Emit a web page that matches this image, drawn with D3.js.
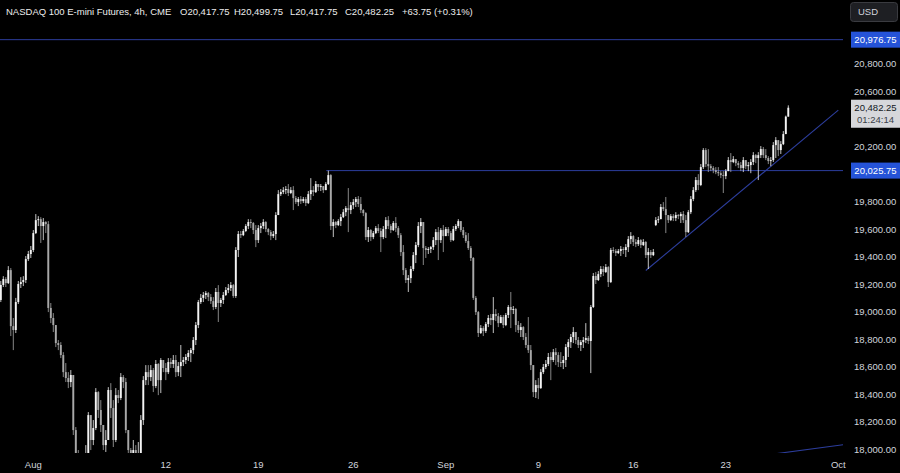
<!DOCTYPE html>
<html><head><meta charset="utf-8">
<script src="https://cdn.jsdelivr.net/npm/d3@7"></script>
<style>html,body{margin:0;padding:0;background:#000;overflow:hidden}svg{display:block}</style>
</head><body><svg id="c" width="900" height="473"></svg>
<script>
// ---- data (NQ E-mini, 4h bars) ----
const closes=[19195,19238,19209,19303,18896,18868,19071,19202,19216,19231,19383,19420,19449,19572,19666,19673,19623,19652,19637,19028,
18955,18904,18773,18759,18686,18562,18519,18490,18541,18141,17960,17851,17815,17779,17924,18250,18069,18156,18417,18287,
18178,18032,18069,18432,18301,18069,18395,18374,18526,18490,18141,17996,17887,17996,17938,17960,18214,18504,18562,18526,
18577,18461,18621,18504,18650,18592,18562,18635,18621,18650,18562,18606,18635,18650,18672,18701,18722,18795,18904,19071,
19101,19122,19136,19107,19078,19035,19144,19064,19086,19122,19158,19173,19194,19115,19449,19565,19557,19587,19623,19652,
19645,19594,19521,19608,19623,19652,19601,19579,19550,19565,19703,19855,19870,19884,19892,19863,19884,19826,19797,19819,
19804,19819,19790,19855,19884,19870,19928,19906,19913,19884,19928,19993,19623,19652,19630,19659,19688,19724,19753,19739,
19775,19797,19819,19783,19739,19717,19543,19594,19543,19572,19608,19587,19543,19601,19666,19623,19594,19645,19608,19557,
19434,19303,19231,19245,19311,19412,19485,19623,19652,19463,19449,19456,19470,19521,19579,19521,19594,19550,19601,19572,
19521,19601,19623,19659,19594,19557,19514,19463,19391,19101,18998,18846,18882,18860,18911,18955,18940,18984,18969,18918,
18962,18904,18977,19035,19013,19020,18904,18868,18889,18817,18759,18722,18613,18417,18468,18446,18562,18599,18621,18672,
18650,18707,18686,18635,18628,18650,18744,18780,18817,18853,18795,18759,18780,18795,18810,18788,19035,19260,19231,19274,
19311,19289,19325,19216,19449,19442,19427,19442,19456,19449,19470,19528,19550,19507,19492,19521,19485,19507,19412,19434,
19412,19434,19666,19673,19761,19746,19703,19666,19695,19681,19703,19695,19710,19666,19579,19724,19819,19884,19957,19921,
20051,20175,20073,20058,20044,20029,20015,20007,19993,19986,20022,20102,20088,20109,20080,20066,20044,20102,20058,20066,
20088,20138,20117,20138,20182,20138,20117,20095,20102,20211,20247,20175,20218,20291,20417.75,20482.25];
const opens=[19086,19195,19238,19209,19303,18896,18868,19071,19202,19216,19231,19383,19420,19449,19572,19666,19673,19623,19652,19637,
19028,18955,18904,18773,18759,18686,18562,18519,18490,18541,18141,17960,17851,17815,17779,17924,18250,18069,18156,18417,
18287,18178,18032,18069,18432,18301,18069,18395,18374,18526,18490,18141,17996,17887,17996,17938,17960,18214,18504,18562,
18526,18577,18461,18621,18504,18650,18592,18562,18635,18621,18650,18562,18606,18635,18650,18672,18701,18722,18795,18904,
19071,19101,19122,19136,19107,19078,19035,19144,19064,19086,19122,19158,19173,19194,19115,19449,19565,19557,19587,19623,
19652,19645,19594,19521,19608,19623,19652,19601,19579,19550,19565,19703,19855,19870,19884,19892,19863,19884,19826,19797,
19819,19804,19819,19790,19855,19884,19870,19928,19906,19913,19884,19928,19993,19623,19652,19630,19659,19688,19724,19753,
19739,19775,19797,19819,19783,19739,19717,19543,19594,19543,19572,19608,19587,19543,19601,19666,19623,19594,19645,19608,
19557,19434,19303,19231,19245,19311,19412,19485,19623,19652,19463,19449,19456,19470,19521,19579,19521,19594,19550,19601,
19572,19521,19601,19623,19659,19594,19557,19514,19463,19391,19101,18998,18846,18882,18860,18911,18955,18940,18984,18969,
18918,18962,18904,18977,19035,19013,19020,18904,18868,18889,18817,18759,18722,18613,18417,18468,18446,18562,18599,18621,
18672,18650,18707,18686,18635,18628,18650,18744,18780,18817,18853,18795,18759,18780,18795,18810,18788,19035,19260,19231,
19274,19311,19289,19325,19216,19449,19442,19427,19442,19456,19449,19470,19528,19550,19507,19492,19521,19485,19507,19412,
19434,19412,19630,19666,19673,19761,19746,19703,19666,19695,19681,19703,19695,19710,19666,19579,19724,19819,19884,19957,
19921,20051,20175,20073,20058,20044,20029,20015,20007,19993,19986,20022,20102,20088,20109,20080,20066,20044,20102,20058,
20066,20088,20138,20117,20138,20182,20138,20117,20095,20102,20211,20247,20175,20218,20291,20417.75];
const highs=[19224,19259,19252,19332,19318,18955,19101,19224,19252,19259,19405,19442,19478,19594,19710,19695,19688,19681,19659,19659,
19064,18991,18896,18795,18780,18707,18628,18562,18577,18541,18163,17996,17960,17960,18032,18272,18178,18214,18446,18424,
18359,18178,18141,18453,18482,18359,18446,18432,18555,18541,18519,18141,18011,18069,18032,18054,18250,18533,18613,18613,
18613,18592,18650,18628,18664,18613,18628,18664,18664,18686,18686,18635,18759,18672,18693,18722,18737,18817,18926,19086,
19129,19144,19151,19144,19129,19107,19173,19194,19101,19144,19180,19202,19216,19202,19470,19587,19587,19601,19637,19673,
19673,19652,19630,19630,19645,19673,19659,19608,19594,19587,19724,19884,19892,19906,19913,19928,19906,19913,19841,19834,
19841,19834,19834,19877,19971,19913,19950,19928,19928,19913,19942,20025.75,20000,19673,19659,19673,19710,19746,19768,19899,
19797,19819,19834,19841,19834,19746,19724,19616,19601,19587,19623,19637,19608,19623,19688,19695,19637,19659,19688,19623,
19572,19485,19318,19267,19332,19434,19507,19652,19681,19652,19478,19470,19478,19543,19601,19616,19608,19630,19616,19616,
19587,19623,19637,19673,19659,19616,19579,19572,19478,19398,19115,19006,18904,18896,18926,18977,18984,19107,19020,18991,
18977,18977,18991,19049,19144,19042,19028,18933,18918,18896,18846,18962,18759,18613,18504,18519,18584,18621,18650,18701,
18707,18730,18737,18707,18707,18679,18766,18802,18839,18889,18846,18817,18795,18817,18918,18824,19049,19282,19289,19296,
19332,19332,19347,19332,19463,19470,19456,19456,19478,19470,19492,19550,19579,19557,19528,19543,19528,19528,19514,19463,
19449,19456,19688,19695,19783,19797,19834,19703,19710,19710,19724,19710,19724,19732,19703,19739,19841,19906,19979,20000,
20073,20189,20189,20182,20073,20058,20051,20051,20022,20022,20037,20124,20153,20131,20109,20095,20088,20124,20088,20088,
20109,20160,20146,20160,20204,20197,20182,20131,20124,20233,20269,20233,20240,20313,20425,20499.75];
const lows=[19071,19180,19180,19202,18824,18722,18846,19057,19173,19187,19209,19369,19391,19434,19565,19623,19500,19521,19572,18998,
18918,18853,18744,18722,18664,18526,18490,18446,18453,18105,17924,17706,17670,17633,17706,17887,17996,18032,18141,18229,
18127,17996,17982,18069,18229,18018,18054,18337,18359,18446,18119,17938,17779,17851,17815,17851,17909,18178,18468,18468,
18497,18417,18446,18395,18410,18562,18504,18548,18592,18592,18526,18533,18526,18606,18621,18643,18635,18693,18759,18882,
19057,19071,19093,19078,19057,19013,19020,18926,19035,19057,19115,19136,19151,19101,19101,19398,19536,19550,19579,19601,
19608,19565,19470,19500,19572,19601,19579,19557,19521,19536,19521,19703,19841,19855,19855,19841,19855,19739,19783,19768,
19783,19790,19768,19783,19812,19841,19863,19877,19877,19863,19884,19921,19594,19543,19608,19623,19623,19681,19695,19579,
19710,19746,19761,19761,19717,19695,19521,19507,19514,19528,19565,19572,19434,19528,19536,19601,19572,19587,19579,19536,
19405,19267,19209,19144,19209,19296,19354,19470,19572,19340,19391,19420,19427,19449,19485,19376,19500,19434,19565,19550,
19507,19514,19587,19608,19579,19536,19500,19449,19369,19086,18977,18817,18839,18824,18846,18889,18904,18846,18933,18889,
18926,18882,18896,18955,18882,18984,18853,18846,18817,18795,18737,18701,18577,18381,18374,18366,18440,18548,18584,18606,
18504,18635,18613,18599,18599,18584,18599,18672,18737,18773,18766,18737,18715,18737,18773,18766,18555,19028,19202,19224,
19252,19260,19282,19180,19209,19427,19405,19420,19405,19420,19398,19434,19492,19478,19470,19478,19463,19478,19391,19311,
19391,19405,19623,19645,19673,19732,19572,19645,19659,19659,19659,19673,19645,19645,19543,19572,19710,19804,19870,19884,
19913,20037,20051,20015,20022,20007,20000,19986,19971,19863,19964,20022,20015,20080,20058,20044,20022,20015,20037,20022,
20007,20066,20080,19957,20117,20117,20102,20073,20058,20088,20117,20131,20146,20211,20291,20417.75];

const timeLabels=["Aug","12","19","26","Sep","9","16","23","Oct"];
const timeLabelBars=[13,66,103,141,178,215,253,290,335];
const priceTicks=[18000,18200,18400,18600,18800,19000,19200,19400,19600,19800,20000,20200,20400,20600,20800,21000];
const levelPrices=[20976.75,20025.75];
const levelStartBar=[0,131];
const trendA=[[258,19300],[335,20465]];
const trendB=[[300,17945],[337,18035]];
const lastPrice=20482.25, countdown="01:24:14";
const titleParts=["NASDAQ 100 E-mini Futures, 4h, CME","O20,417.75","H20,499.75","L20,417.75","C20,482.25","+63.75 (+0.31%)"];

// ---- drawing ----
const W=900,H=473, plotR=843, plotB=453;
const svg=d3.select("#c");
svg.append("rect").attr("width",W).attr("height",H).attr("fill","#000");
const x=d3.scaleLinear().domain([0,315]).range([0.8,788.3]);
const y=d3.scaleLinear().domain([18000,20800]).range([449.5,64]);
const font="'Liberation Sans', Arial, sans-serif";
const txt="#d1d4dc";
const defs=svg.append("defs");
defs.append("clipPath").attr("id","pc").append("rect")
  .attr("x",0).attr("y",0).attr("width",plotR).attr("height",plotB);
const g=svg.append("g").attr("clip-path","url(#pc)");

// level lines
const lineCol="#2c3d9c";
levelPrices.forEach((p,k)=>{
  g.append("line").attr("x1",x(levelStartBar[k])-2).attr("x2",plotR).attr("y1",y(p)).attr("y2",y(p))
   .attr("stroke",lineCol).attr("stroke-width",1);
});
[trendA,trendB].forEach(t=>{
  g.append("line").attr("x1",x(t[0][0])).attr("y1",y(t[0][1])).attr("x2",x(t[1][0])).attr("y2",y(t[1][1]))
   .attr("stroke",lineCol).attr("stroke-width",1.1);
});

// candles
const idx=d3.range(closes.length);
const up=i=>closes[i]>=opens[i];
const col=i=>up(i)?"#f4f4f4":"#a8a8a8";
g.selectAll("line.w").data(idx).join("line").attr("class","w")
  .attr("x1",i=>x(i)).attr("x2",i=>x(i))
  .attr("y1",i=>y(Math.max(highs[i],opens[i],closes[i])))
  .attr("y2",i=>y(Math.min(lows[i],opens[i],closes[i])))
  .attr("stroke",col).attr("stroke-width",0.8);
g.selectAll("rect.b").data(idx).join("rect").attr("class","b")
  .attr("x",i=>x(i)-0.95).attr("width",1.9)
  .attr("y",i=>y(Math.max(opens[i],closes[i])))
  .attr("height",i=>Math.max(0.8,Math.abs(y(opens[i])-y(closes[i]))))
  .attr("fill",col);

// price-axis label boxes (positions in pixels)
const boxes=levelPrices.map(p=>({top:y(p)-8,bot:y(p)+8}));
boxes.push({top:y(lastPrice)-8,bot:y(lastPrice)+20});
// tick labels: hidden when fully covered by a box; the partly covered one is clipped
defs.append("clipPath").attr("id","ac").append("rect").attr("x",840).attr("y",0).attr("width",60).attr("height",boxes[0].top);
priceTicks.forEach(d=>{
  const yy=y(d);
  const hit=boxes.find(b=>yy+4>b.top && yy-4<b.bot);
  if(hit && yy>hit.top) return;           // fully hidden behind a label
  const t=svg.append("text").attr("x",854).attr("y",yy).attr("dy","0.35em")
    .attr("font-family",font).attr("font-size",9.5).attr("fill",txt)
    .text(d3.format(",.2f")(d));
  if(hit) t.attr("clip-path","url(#ac)");   // only its top peeks out
});

levelPrices.forEach(p=>{
  svg.append("rect").attr("x",851).attr("y",y(p)-8).attr("width",49).attr("height",16).attr("fill","#2553d8");
  svg.append("text").attr("x",875.5).attr("y",y(p)).attr("dy","0.35em").attr("text-anchor","middle")
    .attr("font-family",font).attr("font-size",9.5).attr("fill","#ffffff").text(d3.format(",.2f")(p));
});
// last price box
svg.append("rect").attr("x",851).attr("y",y(lastPrice)-8).attr("width",49).attr("height",28).attr("fill","#d6d7db");
svg.append("text").attr("x",875.5).attr("y",y(lastPrice)).attr("dy","0.35em").attr("text-anchor","middle")
  .attr("font-family",font).attr("font-size",9.5).attr("fill","#131722").text(d3.format(",.2f")(lastPrice));
svg.append("text").attr("x",875.5).attr("y",y(lastPrice)+12).attr("dy","0.35em").attr("text-anchor","middle")
  .attr("font-family",font).attr("font-size",9.5).attr("fill","#3a3e48").text(countdown);

// USD box
svg.append("rect").attr("x",850.5).attr("y",2.5).attr("width",47).attr("height",19).attr("rx",3)
  .attr("fill","#1e1f23").attr("stroke","#3a3b40");
svg.append("text").attr("x",858).attr("y",12).attr("dy","0.35em")
  .attr("font-family",font).attr("font-size",9.5).attr("fill",txt).text("USD");

// time axis labels
svg.selectAll("text.t").data(timeLabels).join("text").attr("class","t")
  .attr("x",(d,i)=>x(timeLabelBars[i])).attr("y",465).attr("dy","0.35em").attr("text-anchor","middle")
  .attr("font-family",font).attr("font-size",9.5).attr("fill",txt).text(d=>d);

// title
const tx=[6,180,234,290,345,402];
titleParts.forEach((s,i)=>{
  svg.append("text").attr("x",tx[i]).attr("y",12).attr("dy","0.35em")
    .attr("font-family",font).attr("font-size",9.5).attr("fill","#ececec").text(s);
});
</script></body></html>
